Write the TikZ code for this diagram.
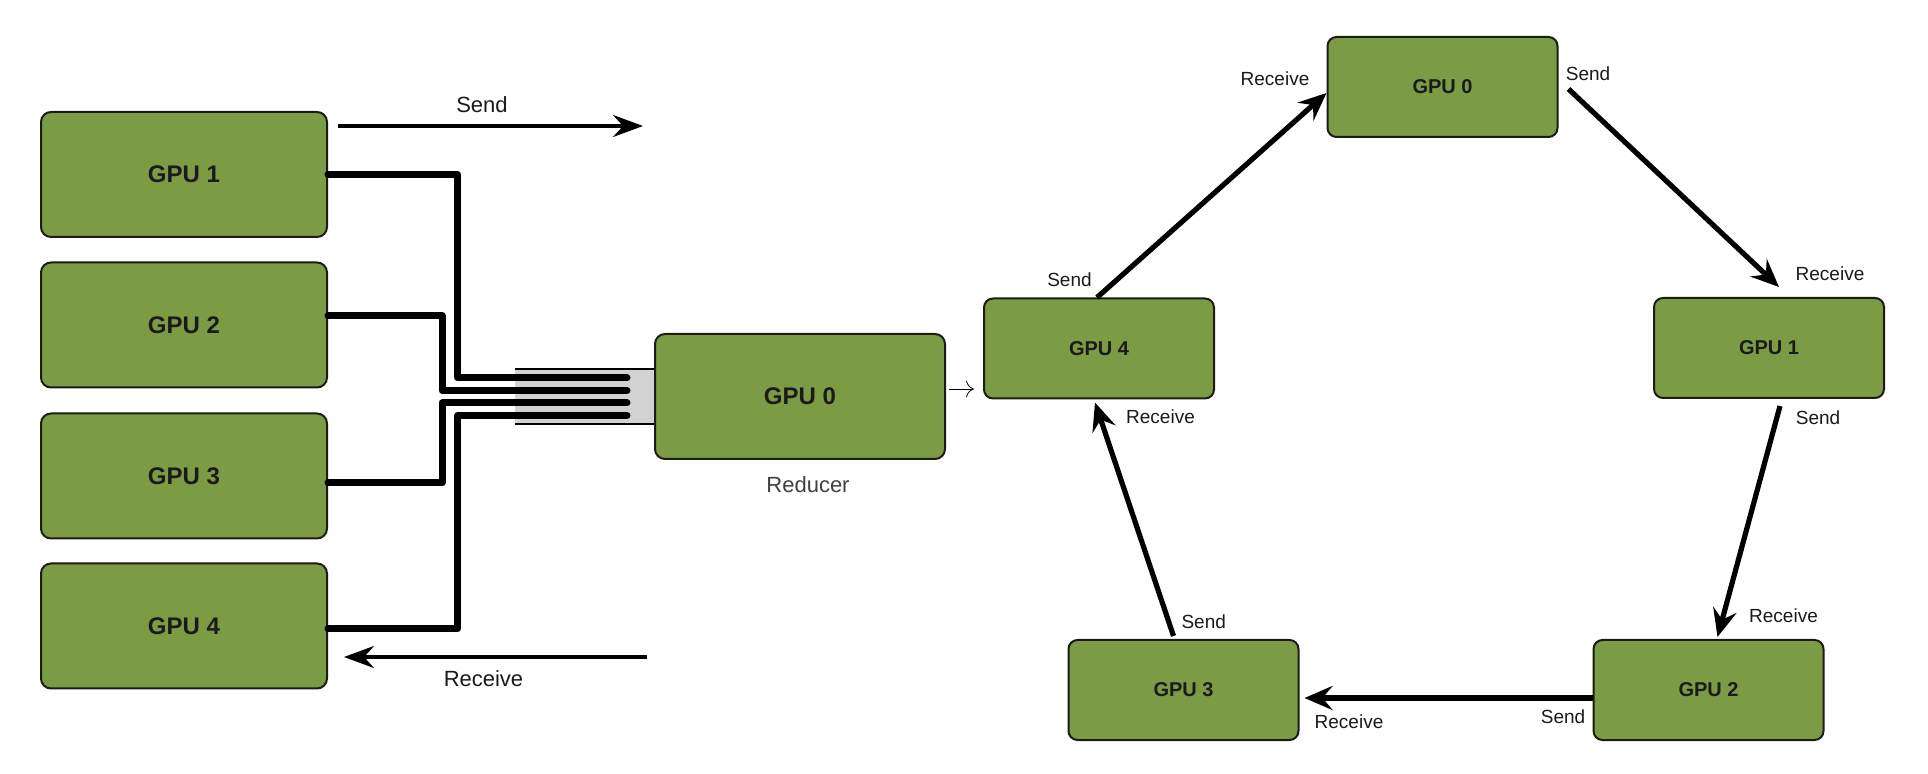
\documentclass[tikz,border=0pt]{standalone}
\usepackage{fontspec}
\setmainfont{Liberation Sans}
\usetikzlibrary{arrows.meta,calc}
\definecolor{gpugreen}{HTML}{7B9C44}
\definecolor{gpuedge}{HTML}{1C1C14}
\definecolor{txt}{HTML}{1A1A1A}
\tikzset{
  bigbox/.style={draw=gpuedge, fill=gpugreen, line width=1pt, rounded corners=5pt,
    minimum width=143pt, minimum height=62.5pt, inner sep=0pt,
    font=\fontsize{12}{14}\selectfont\bfseries, text=txt},
  ringbox/.style={draw=gpuedge, fill=gpugreen, line width=1pt, rounded corners=4.5pt,
    minimum width=115pt, minimum height=50pt, inner sep=0pt,
    font=\fontsize{10}{12}\selectfont\bfseries, text=txt},
  wire/.style={line width=3.5pt, line cap=round, line join=round},
  bigarrow/.style={line width=1.6pt, -{Stealth[length=15pt, width=11pt, inset=5pt]}},
  ringarrow/.style={line width=2.6pt, -{Stealth[length=14pt, width=12pt, inset=5pt]}},
  biglbl/.style={font=\fontsize{11}{13}\selectfont, text=txt, inner sep=0pt},
  ringlbl/.style={font=\fontsize{9.5}{11}\selectfont, text=txt, inner sep=0pt},
}
\begin{document}
\begin{tikzpicture}[x=0.5pt, y=-0.5pt]
\useasboundingbox (0,0) rectangle (1928,774);
% left: reducer scheme
\node[bigbox] (g1) at (184,174.5) {GPU 1};
\node[bigbox] (g2) at (184,325) {GPU 2};
\node[bigbox] (g3) at (184,476) {GPU 3};
\node[bigbox] (g4) at (184,626) {GPU 4};
\node[bigbox, minimum width=145pt] (red) at (800,396.5) {GPU 0};
\node[biglbl, text=black!75] (redlbl) at (808,485) {Reducer};
% connector plate
\fill[gray!35] (515,369) rectangle (red.west |- 0,424);
\draw[line width=0.6pt] (515,369) -- (red.west |- 0,369);
\draw[line width=0.6pt] (515,424) -- (red.west |- 0,424);
% wires
\coordinate (e1) at (627,378);
\coordinate (e2) at (627,390.5);
\coordinate (e3) at (627,403);
\coordinate (e4) at (627,415.5);
\draw[wire] (g1.east) -- (457.6,174.5) -- (457.6,378) -- (e1);
\draw[wire] ($(g2.east)+(0,-9)$) -- (442,316) -- (442,390.5) -- (e2);
\draw[wire] ($(g3.east)+(0,7)$) -- (442,483) -- (442,403) -- (e3);
\draw[wire] ($(g4.east)+(0,3)$) -- (457.6,629) -- (457.6,415.5) -- (e4);
% send / receive arrows
\coordinate (s0) at (338,126);
\coordinate (s1) at (643,126);
\draw[bigarrow] (s0) -- (s1);
\node[biglbl] (sendlbl) at (482,105) {Send};
\coordinate (r0a) at (647,657);
\coordinate (r1a) at (344,657);
\draw[bigarrow] (r0a) -- (r1a);
\node[biglbl] (recvlbl) at (483.5,679) {Receive};
% right: ring scheme
\node[ringbox] (r0) at (1442.5,87) {GPU 0};
\node[ringbox] (r4) at (1099,348.5) {GPU 4};
\node[ringbox] (r1) at (1769,348) {GPU 1};
\node[ringbox] (r3) at (1183.5,690) {GPU 3};
\node[ringbox] (r2) at (1708.5,690) {GPU 2};
\draw[line width=0.4pt, -{To[length=4pt]}] ($(red.east)+(3,-7.5)$) -- ($(r4.west)+(-9,40.5)$);
\draw[ringarrow] ($(r4.north)+(-2,0)$) -- ($(r0.west)+(0,6)$);
\draw[ringarrow] ($(r0.east)+(10,2)$) -- ($(r1.north)+(10,-10)$);
\draw[ringarrow] ($(r1.south)+(11,7)$) -- ($(r2.north)+(9,-2)$);
\draw[ringarrow] ($(r2.west)+(0,8)$) -- ($(r3.east)+(5,8)$);
\draw[ringarrow] ($(r3.north)+(-10,-3)$) -- ($(r4.south)+(-4,3)$);
\node[ringlbl] (l1) at (1069.5,280) {Send};
\node[ringlbl] (l2) at (1275,79) {Receive};
\node[ringlbl] (l3) at (1588,74) {Send};
\node[ringlbl] (l4) at (1830,274) {Receive};
\node[ringlbl] (l5) at (1818,418) {Send};
\node[ringlbl] (l6) at (1783.5,616) {Receive};
\node[ringlbl] (l7) at (1563,717) {Send};
\node[ringlbl] (l8) at (1349,722) {Receive};
\node[ringlbl] (l9) at (1203.7,622) {Send};
\node[ringlbl] (l10) at (1160.5,417) {Receive};
\end{tikzpicture}
\end{document}
